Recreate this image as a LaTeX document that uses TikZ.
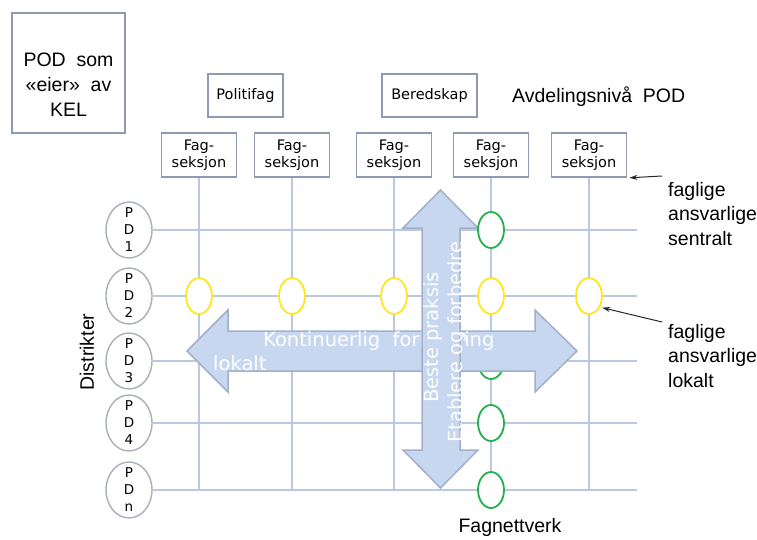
\documentclass[tikz,border=0pt]{standalone}
\usepackage{fontspec}
\setmainfont{Liberation Sans}
\newfontfamily\dvsans{DejaVu Sans}
\usetikzlibrary{arrows.meta,shapes.geometric}

\definecolor{boxline}{HTML}{8E9AAE}
\definecolor{gridline}{HTML}{B9C9E3}
\definecolor{arrowfill}{HTML}{C6D7EF}
\definecolor{arrowline}{HTML}{A2B0C8}
\definecolor{ovalline}{HTML}{A9AFBA}
\definecolor{localyellow}{HTML}{FFE61E}
\definecolor{netgreen}{HTML}{23B04E}

\tikzset{
  unitbox/.style={draw=boxline, line width=1.8pt, fill=white, inner sep=0pt,
    align=center, font=\dvsans\fontsize{14.5}{17}\selectfont},
  fagbox/.style={unitbox, minimum width=75pt, minimum height=44pt},
  ownerbox/.style={draw=boxline, line width=1.8pt, fill=white, inner sep=0pt,
    minimum width=113pt, minimum height=120pt},
  ownertext/.style={inner sep=0pt, align=center, font=\fontsize{19.5}{25}\selectfont},
  district/.style={ellipse, draw=ovalline, line width=1.4pt, fill=white,
    minimum width=46pt, minimum height=56pt, inner xsep=0pt, inner ysep=-8pt,
    align=center, font=\dvsans\fontsize{13.5}{17}\selectfont},
  localnode/.style={ellipse, draw=localyellow, line width=1.8pt, fill=white,
    minimum width=26pt, minimum height=36pt, inner sep=0pt},
  netnode/.style={localnode, draw=netgreen},
  gridrule/.style={draw=gridline, line width=2pt},
  bigarrow/.style={fill=arrowfill, draw=arrowline, line width=1.5pt, line join=miter},
  arrowtext/.style={text=white, inner sep=0pt, font=\dvsans\fontsize{19.5}{24}\selectfont},
  sidetext/.style={inner sep=0pt, align=left, font=\fontsize{19.5}{24.5}\selectfont},
  pointer/.style={draw=black!85, line width=1pt, -{Stealth[length=8pt,width=5pt]}, shorten >=2pt},
}

\begin{document}
\begin{tikzpicture}[x=1pt,y=-1pt]
\useasboundingbox (0,0) rectangle (757,540);

% owner of the whole structure
\node[ownerbox] (podbox) at (68.5,73) {};
\node[ownertext] (podtext) at ([yshift=-12pt]podbox.center) {POD~~som\\«eier»~~av\\KEL};

% department level
\node[unitbox, minimum width=75pt, minimum height=43pt] (politi) at (245.5,95.5) {Politifag};
\node[unitbox, minimum width=95pt, minimum height=43pt] (bered) at (429.5,95.5) {Beredskap};
\node[sidetext, anchor=west] (level) at (512,97) {Avdelingsnivå~~POD};

% subject sections
\foreach \n/\x in {1/199,2/292,3/394,4/491,5/589}
  \node[fagbox] (fs\n) at (\x,155) {Fag-\\seksjon};

% districts
\foreach \n/\y/\t in {1/230/1,2/296/2,3/361/3,4/423/4,5/490/n}
  \node[district] (pd\n) at (129,\y) {P\\D\\\t};

\coordinate (gridright) at (637,0);
\coordinate (gridbottom) at (0,490);

% matrix lines
\foreach \n in {1,...,5}
  \draw[gridrule] (fs\n.south) -- (fs\n |- gridbottom);
\foreach \n in {1,...,5}
  \draw[gridrule] (pd\n.east) -- (pd\n -| gridright);

% local responsibles (district 2)
\foreach \n in {1,...,5}
  \node[localnode] (loc\n) at (fs\n |- pd2) {};

% subject network
\node[netnode] (net3) at (fs4 |- pd3) {};
\node[netnode] (net4) at (fs4 |- pd4) {};
\node[netnode] (net5) at (fs4 |- pd5) {};

% continuous improvement (horizontal)
\path[bigarrow] (187,351) -- (228,310) -- (228,331) -- (535,331) -- (535,310)
  -- (577,351) -- (535,392) -- (535,371) -- (228,371) -- (228,392) -- cycle;
\node[arrowtext, anchor=base west] (hortext1) at (263,346) {Kontinuerlig~~forbedring};
\node[arrowtext, anchor=base west] (hortext2) at (213,370) {lokalt};

% best practice (vertical)
\path[bigarrow] (440.5,190) -- (478,228) -- (460,228) -- (460,450) -- (478,450)
  -- (440.5,488) -- (403,450) -- (422,450) -- (422,228) -- (403,228) -- cycle;
\node[arrowtext, rotate=90, anchor=base west] (vertext1) at (438,403) {Beste praksis};
\node[arrowtext, rotate=90, anchor=base west] (vertext2) at (462,443) {Etablere og forbedre};

\node[netnode] (net1) at (fs4 |- pd1) {};

% side labels
\node[sidetext, rotate=90] (distr) at (87,352) {Distrikter};
\node[sidetext] (fagnett) at (510,527) {Fagnettverk};
\node[sidetext, anchor=north west] (sentral) at (668,182) {faglige\\ansvarlige\\sentralt};
\node[sidetext, anchor=north west] (lokal) at (668,324) {faglige\\ansvarlige\\lokalt};

\coordinate (sentraltail) at (662,176);
\coordinate (lokaltail) at (662,322);
\draw[pointer] (sentraltail) -- (fs5.south east);
\draw[pointer] (lokaltail) -- (loc5.-45);
\end{tikzpicture}
\end{document}
